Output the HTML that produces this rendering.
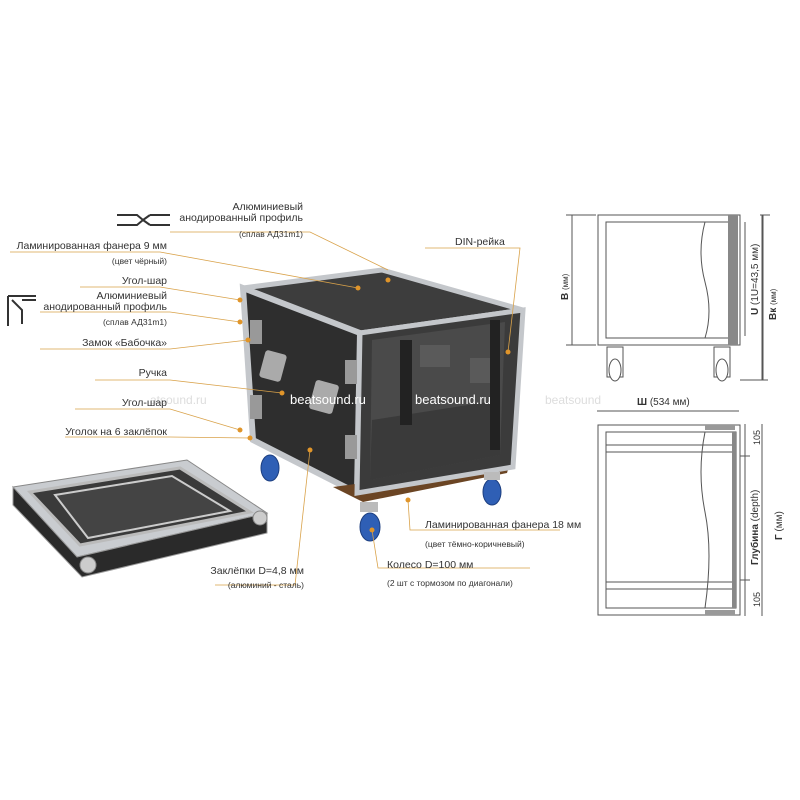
<!DOCTYPE html>
<html><head><meta charset="utf-8"><style>
body{margin:0;background:#fff}
svg{display:block}
text{font-family:"Liberation Sans","DejaVu Sans",sans-serif;fill:#333}
.l{font-size:10.5px}.s{font-size:8.5px}
.ld{stroke:#d9a24a;stroke-width:0.8;fill:none}
.dot{fill:#e0952a}
.dr{stroke:#555;stroke-width:1;fill:none}
</style></head><body>
<svg width="800" height="800" viewBox="0 0 800 800">
<!-- lid -->
<polygon points="13,487 187,460 267,513 77,557" fill="#c9ccd0" stroke="#888"/>
<polygon points="77,557 267,513 267,533 82,577 13,505 13,487" fill="#2a2a2a" stroke="#999"/>
<polygon points="30,492 180,468 250,512 80,545" fill="#3a3a3a" stroke="#bbb" stroke-width="3"/>
<polygon points="55,495 172,476 230,511 88,538" fill="#444" stroke="#ccc" stroke-width="2"/>
<circle cx="260" cy="518" r="7" fill="#ccc" stroke="#888"/><circle cx="88" cy="565" r="8" fill="#ccc" stroke="#888"/>
<!-- case -->
<polygon points="243,288 382,270 523,310 360,333" fill="#3d3d3d" stroke="#c4c7cb" stroke-width="5"/>
<polygon points="243,288 360,333 357,493 253,440" fill="#2e2e2e" stroke="#c4c7cb" stroke-width="6"/>
<polygon points="333,487 510,463 507,473 363,502" fill="#6b4524"/>
<polygon points="360,333 523,310 513,467 357,493" fill="#3b3b3b" stroke="#c4c7cb" stroke-width="5"/>
<polygon points="372,340 505,322 500,455 370,480" fill="#4a4a4a"/>
<polygon points="372,420 500,400 500,455 370,480" fill="#3a3a3a"/>
<rect x="400" y="340" width="12" height="85" fill="#222"/>
<rect x="490" y="320" width="10" height="130" fill="#222"/>
<rect x="420" y="345" width="30" height="22" fill="#5a5a5a"/><rect x="470" y="358" width="20" height="25" fill="#5a5a5a"/>
<rect x="262" y="352" width="22" height="28" fill="#aaa" rx="3" transform="rotate(15 273 366)"/>
<rect x="312" y="382" width="24" height="30" fill="#aaa" rx="3" transform="rotate(15 324 397)"/>
<rect x="250" y="320" width="12" height="24" fill="#999"/><rect x="250" y="395" width="12" height="24" fill="#999"/>
<rect x="345" y="360" width="12" height="24" fill="#999"/><rect x="345" y="435" width="12" height="24" fill="#999"/>
<!-- wheels -->
<ellipse cx="270" cy="468" rx="9" ry="13" fill="#2f5fb5" stroke="#1d3f80"/>
<ellipse cx="370" cy="527" rx="10" ry="14" fill="#2f5fb5" stroke="#1d3f80"/>
<ellipse cx="492" cy="492" rx="9" ry="13" fill="#2f5fb5" stroke="#1d3f80"/>
<rect x="360" y="502" width="18" height="10" fill="#bbb"/><rect x="484" y="472" width="16" height="8" fill="#bbb"/>
<!-- watermarks -->
<text x="150" y="404" font-size="12" style="fill:#ddd">atsound.ru</text>
<text x="290" y="404" font-size="13" style="fill:#fff">beatsound.ru</text>
<text x="415" y="404" font-size="13" style="fill:#fff">beatsound.ru</text>
<text x="545" y="404" font-size="12" style="fill:#ddd">beatsound</text>
<!-- leader lines -->
<polyline class="ld" points="170,232 310,232 388,270"/>
<polyline class="ld" points="10,252 160,252 358,288"/>
<polyline class="ld" points="80,287 160,287 240,300"/>
<polyline class="ld" points="40,312 170,312 240,322"/>
<polyline class="ld" points="40,349 170,349 248,340"/>
<polyline class="ld" points="95,380 170,380 282,393"/>
<polyline class="ld" points="75,409 170,409 240,430"/>
<polyline class="ld" points="65,437 170,437 250,438"/>
<polyline class="ld" points="425,248 520,248 508,352"/>
<polyline class="ld" points="310,450 295,585 215,585"/>
<polyline class="ld" points="408,500 410,530 560,530"/>
<polyline class="ld" points="372,530 378,568 530,568"/>
<g class="dot"><circle cx="388" cy="280" r="2.5"/><circle cx="358" cy="288" r="2.5"/><circle cx="240" cy="300" r="2.5"/><circle cx="240" cy="322" r="2.5"/><circle cx="248" cy="340" r="2.5"/><circle cx="282" cy="393" r="2.5"/><circle cx="240" cy="430" r="2.5"/><circle cx="250" cy="438" r="2.5"/><circle cx="508" cy="352" r="2.5"/><circle cx="310" cy="450" r="2.5"/><circle cx="408" cy="500" r="2.5"/><circle cx="372" cy="530" r="2.5"/></g>
<!-- labels -->
<text class="l" x="303" y="210" text-anchor="end">Алюминиевый</text>
<text class="l" x="303" y="221" text-anchor="end">анодированный профиль</text>
<text class="s" x="303" y="237" text-anchor="end">(сплав АД31m1)</text>
<text class="l" x="167" y="249" text-anchor="end">Ламинированная фанера 9 мм</text>
<text class="s" x="167" y="264" text-anchor="end">(цвет чёрный)</text>
<text class="l" x="167" y="284" text-anchor="end">Угол-шар</text>
<text class="l" x="167" y="299" text-anchor="end">Алюминиевый</text>
<text class="l" x="167" y="310" text-anchor="end">анодированный профиль</text>
<text class="s" x="167" y="325" text-anchor="end">(сплав АД31m1)</text>
<text class="l" x="167" y="346" text-anchor="end">Замок «Бабочка»</text>
<text class="l" x="167" y="376" text-anchor="end">Ручка</text>
<text class="l" x="167" y="406" text-anchor="end">Угол-шар</text>
<text class="l" x="167" y="435" text-anchor="end">Уголок на 6 заклёпок</text>
<text class="l" x="455" y="245">DIN-рейка</text>
<text class="l" x="304" y="574" text-anchor="end">Заклёпки D=4,8 мм</text>
<text class="s" x="304" y="588" text-anchor="end">(алюминий - сталь)</text>
<text class="l" x="425" y="528">Ламинированная фанера 18 мм</text>
<text class="s" x="425" y="547">(цвет тёмно-коричневый)</text>
<text class="l" x="387" y="568">Колесо D=100 мм</text>
<text class="s" x="387" y="586">(2 шт с тормозом по диагонали)</text>
<!-- profile icons -->
<path d="M117,215 h20 l6,5 l-6,5 h-20 M150,215 h20 M150,225 h20 M143,220 l7,-5 M143,220 l7,5" stroke="#333" stroke-width="2" fill="none"/>
<path d="M8,296 v30 M8,296 h28 M12,300 l10,10 v14 M22,300 h14" stroke="#333" stroke-width="2" fill="none"/>
<!-- right drawings -->
<rect class="dr" x="598" y="215" width="142" height="130"/>
<rect class="dr" x="606" y="222" width="126" height="116"/>
<path class="dr" d="M705,222 q-8,30 0,60 q8,30 0,56"/>
<rect x="728" y="215" width="10" height="130" fill="#888"/>
<rect class="dr" x="607" y="347" width="16" height="30"/><ellipse cx="615" cy="370" rx="6" ry="11" fill="#fff" stroke="#555"/>
<rect class="dr" x="714" y="347" width="16" height="30"/><ellipse cx="722" cy="370" rx="6" ry="11" fill="#fff" stroke="#555"/>
<path class="dr" d="M572,215 v130 M566,215 h30 M566,345 h30 M763,215 v165 M740,380 h28 M765,215 h-5 M765,380 h-5 M765,215 h-5 M763,215 h5 M764,215 l0,0 M765,215 h5 M765,215"/>
<path class="dr" d="M762,215 v165"/><path class="dr" d="M745,222 v114"/>
<text x="0" y="0" font-size="10" font-weight="bold" transform="translate(568,300) rotate(-90)">В <tspan font-weight="normal" font-size="8">(мм)</tspan></text>
<text x="0" y="0" font-size="10" font-weight="bold" transform="translate(758,315) rotate(-90)">U <tspan font-weight="normal">(1U=43,5 мм)</tspan></text>
<text x="0" y="0" font-size="10" font-weight="bold" transform="translate(776,320) rotate(-90)">Вк <tspan font-weight="normal" font-size="8">(мм)</tspan></text>
<text x="637" y="405" font-size="10" font-weight="bold">Ш <tspan font-weight="normal">(534 мм)</tspan></text>
<path class="dr" d="M597,411 h142"/>
<rect class="dr" x="598" y="425" width="142" height="190"/>
<rect class="dr" x="606" y="432" width="130" height="176"/>
<path class="dr" d="M606,445 h130 M606,452 h130 M606,582 h130 M606,589 h130"/>
<path class="dr" d="M705,432 q-8,40 0,80 q8,40 0,96"/>
<rect x="705" y="425" width="30" height="5" fill="#999"/><rect x="705" y="610" width="30" height="5" fill="#999"/>
<rect x="732" y="432" width="4" height="176" fill="#888"/>
<path class="dr" d="M762,424 v192 M745,424 v192 M740,456 h10 M740,580 h10"/>
<text font-size="9" transform="translate(760,445) rotate(-90)">105</text>
<text font-size="9" transform="translate(760,607) rotate(-90)">105</text>
<text font-size="10" transform="translate(758,565) rotate(-90)"><tspan font-weight="bold">Глубина</tspan> (depth)</text>
<text font-size="10" transform="translate(782,540) rotate(-90)"><tspan font-weight="bold">Г</tspan> (мм)</text>
</svg>
</body></html>
